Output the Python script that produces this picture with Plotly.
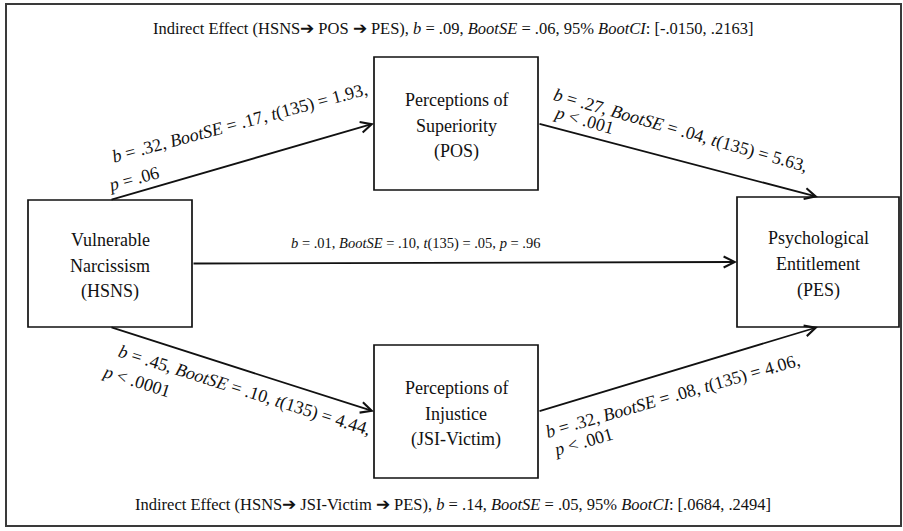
import plotly.graph_objects as go

# ---------------- data ----------------
node_ids = ["HSNS", "POS", "PES", "JSI"]
node_lines = [
    ["Vulnerable", "Narcissism", "(HSNS)"],
    ["Perceptions of", "Superiority", "(POS)"],
    ["Psychological", "Entitlement", "(PES)"],
    ["Perceptions of", "Injustice", "(JSI-Victim)"],
]
path_from = ["HSNS", "POS", "HSNS", "HSNS", "JSI"]
path_to = ["POS", "PES", "PES", "JSI", "PES"]
path_b = [".32", ".27", ".01", ".45", ".32"]
path_se = [".17", ".04", ".10", ".10", ".08"]
path_t = ["1.93", "5.63", ".05", "4.44", "4.06"]
path_p = ["= .06", "< .001", "= .96", "< .0001", "< .001"]
indirect_via = ["POS", "JSI-Victim"]
indirect_b = [".09", ".14"]
indirect_se = [".06", ".05"]
indirect_ci_lo = ["-.0150", ".0684"]
indirect_ci_hi = [".2163", ".2494"]

# ---------------- layout (positions / styles) ----------------
W, H = 903, 531
FONT = "Liberation Serif"
box = {  # x0, y0, x1, y1 in pixel space (y down)
    "HSNS": (28, 200, 192, 327),
    "POS": (374, 57, 538, 190),
    "PES": (737, 197, 899, 327),
    "JSI": (374, 345, 538, 478),
}
path_ports = [("top", "left"), ("right", "top"), ("right", "left"),
              ("bottom", "left"), ("right", "bottom")]
# label placement: (cx, cy, angle) for first line, (cx, cy) for second line
lab1 = [(239, 123, -15), (680, 130, 16), None, (244, 390, 17.5), (672, 396, -16)]
lab2 = [(133, 179), (584, 120), None, (136, 381), (583, 442)]
direct_pos = (415, 243)
node_line_gap = 26
indirect_y = [28, 504]


def port(nid, side):
    x0, y0, x1, y1 = box[nid]
    cx, cy = (x0 + x1) / 2, (y0 + y1) / 2
    return {"top": (cx, y0), "bottom": (cx, y1),
            "left": (x0, cy), "right": (x1, cy)}[side]


fig = go.Figure()
fig.add_trace(go.Scatter(x=[0, W], y=[0, H], mode="markers",
                         marker=dict(opacity=0), hoverinfo="skip",
                         showlegend=False))

shapes = [dict(type="rect", x0=6, y0=4, x1=901, y1=526,
               line=dict(color="#3a3a3a", width=2), layer="below")]
for nid in node_ids:
    x0, y0, x1, y1 = box[nid]
    shapes.append(dict(type="rect", x0=x0, y0=y0, x1=x1, y1=y1,
                       line=dict(color="#111", width=1.7),
                       fillcolor="white", layer="below"))

ann = []
tf = dict(family=FONT, size=18, color="#111")
for nid, lines in zip(node_ids, node_lines):
    x0, y0, x1, y1 = box[nid]
    cx, cy = (x0 + x1) / 2, (y0 + y1) / 2
    n = len(lines)
    for i, ln in enumerate(lines):
        ann.append(dict(x=cx, y=cy + 2 + (i - (n - 1) / 2) * node_line_gap,
                        text=ln, showarrow=False, font=tf,
                        xanchor="center", yanchor="middle"))

for i in range(len(path_from)):
    (fx, fy) = port(path_from[i], path_ports[i][0])
    (tx, ty) = port(path_to[i], path_ports[i][1])
    ann.append(dict(x=tx, y=ty, ax=fx, ay=fy, xref="x", yref="y",
                    axref="x", ayref="y", text="", showarrow=True,
                    arrowhead=5, arrowsize=1.2, arrowwidth=1.8,
                    arrowcolor="#111", standoff=0))
    line1 = (f"<i>b</i> = {path_b[i]}, <i>BootSE</i> = {path_se[i]}, "
             f"<i>t</i>(135) = {path_t[i]},")
    line2 = f"<i>p</i> {path_p[i]}"
    if lab1[i] is None:
        ann.append(dict(x=direct_pos[0], y=direct_pos[1],
                        text=line1 + " " + line2, showarrow=False,
                        font=dict(family=FONT, size=14.5, color="#111")))
    else:
        cx, cy, ang = lab1[i]
        ann.append(dict(x=cx, y=cy, text=line1, textangle=ang,
                        showarrow=False,
                        font=dict(family=FONT, size=18, color="#111")))
        cx2, cy2 = lab2[i]
        ann.append(dict(x=cx2, y=cy2, text=line2, textangle=ang,
                        showarrow=False,
                        font=dict(family=FONT, size=18, color="#111")))

for k in range(2):
    txt = (f"Indirect Effect (HSNS\u2794 {indirect_via[k]} \u2794 PES), "
           f"<i>b</i> = {indirect_b[k]}, <i>BootSE</i> = {indirect_se[k]}, "
           f"95% <i>BootCI</i>: [{indirect_ci_lo[k]}, {indirect_ci_hi[k]}]")
    ann.append(dict(x=453, y=indirect_y[k], text=txt, showarrow=False,
                    font=dict(family=FONT, size=16.5, color="#111")))

for a in ann:
    a.setdefault("xref", "x")
    a.setdefault("yref", "y")

fig.update_layout(
    width=W, height=H, autosize=False,
    margin=dict(l=0, r=0, t=0, b=0),
    paper_bgcolor="white", plot_bgcolor="white",
    xaxis=dict(range=[0, W], visible=False, fixedrange=True),
    yaxis=dict(range=[H, 0], visible=False, fixedrange=True),
    shapes=shapes, annotations=ann, showlegend=False,
)
fig.write_html(
    "out.html",
    config={"displayModeBar": False},
    post_script="document.body.style.margin='0';"
                "document.body.style.overflow='hidden';",
)
